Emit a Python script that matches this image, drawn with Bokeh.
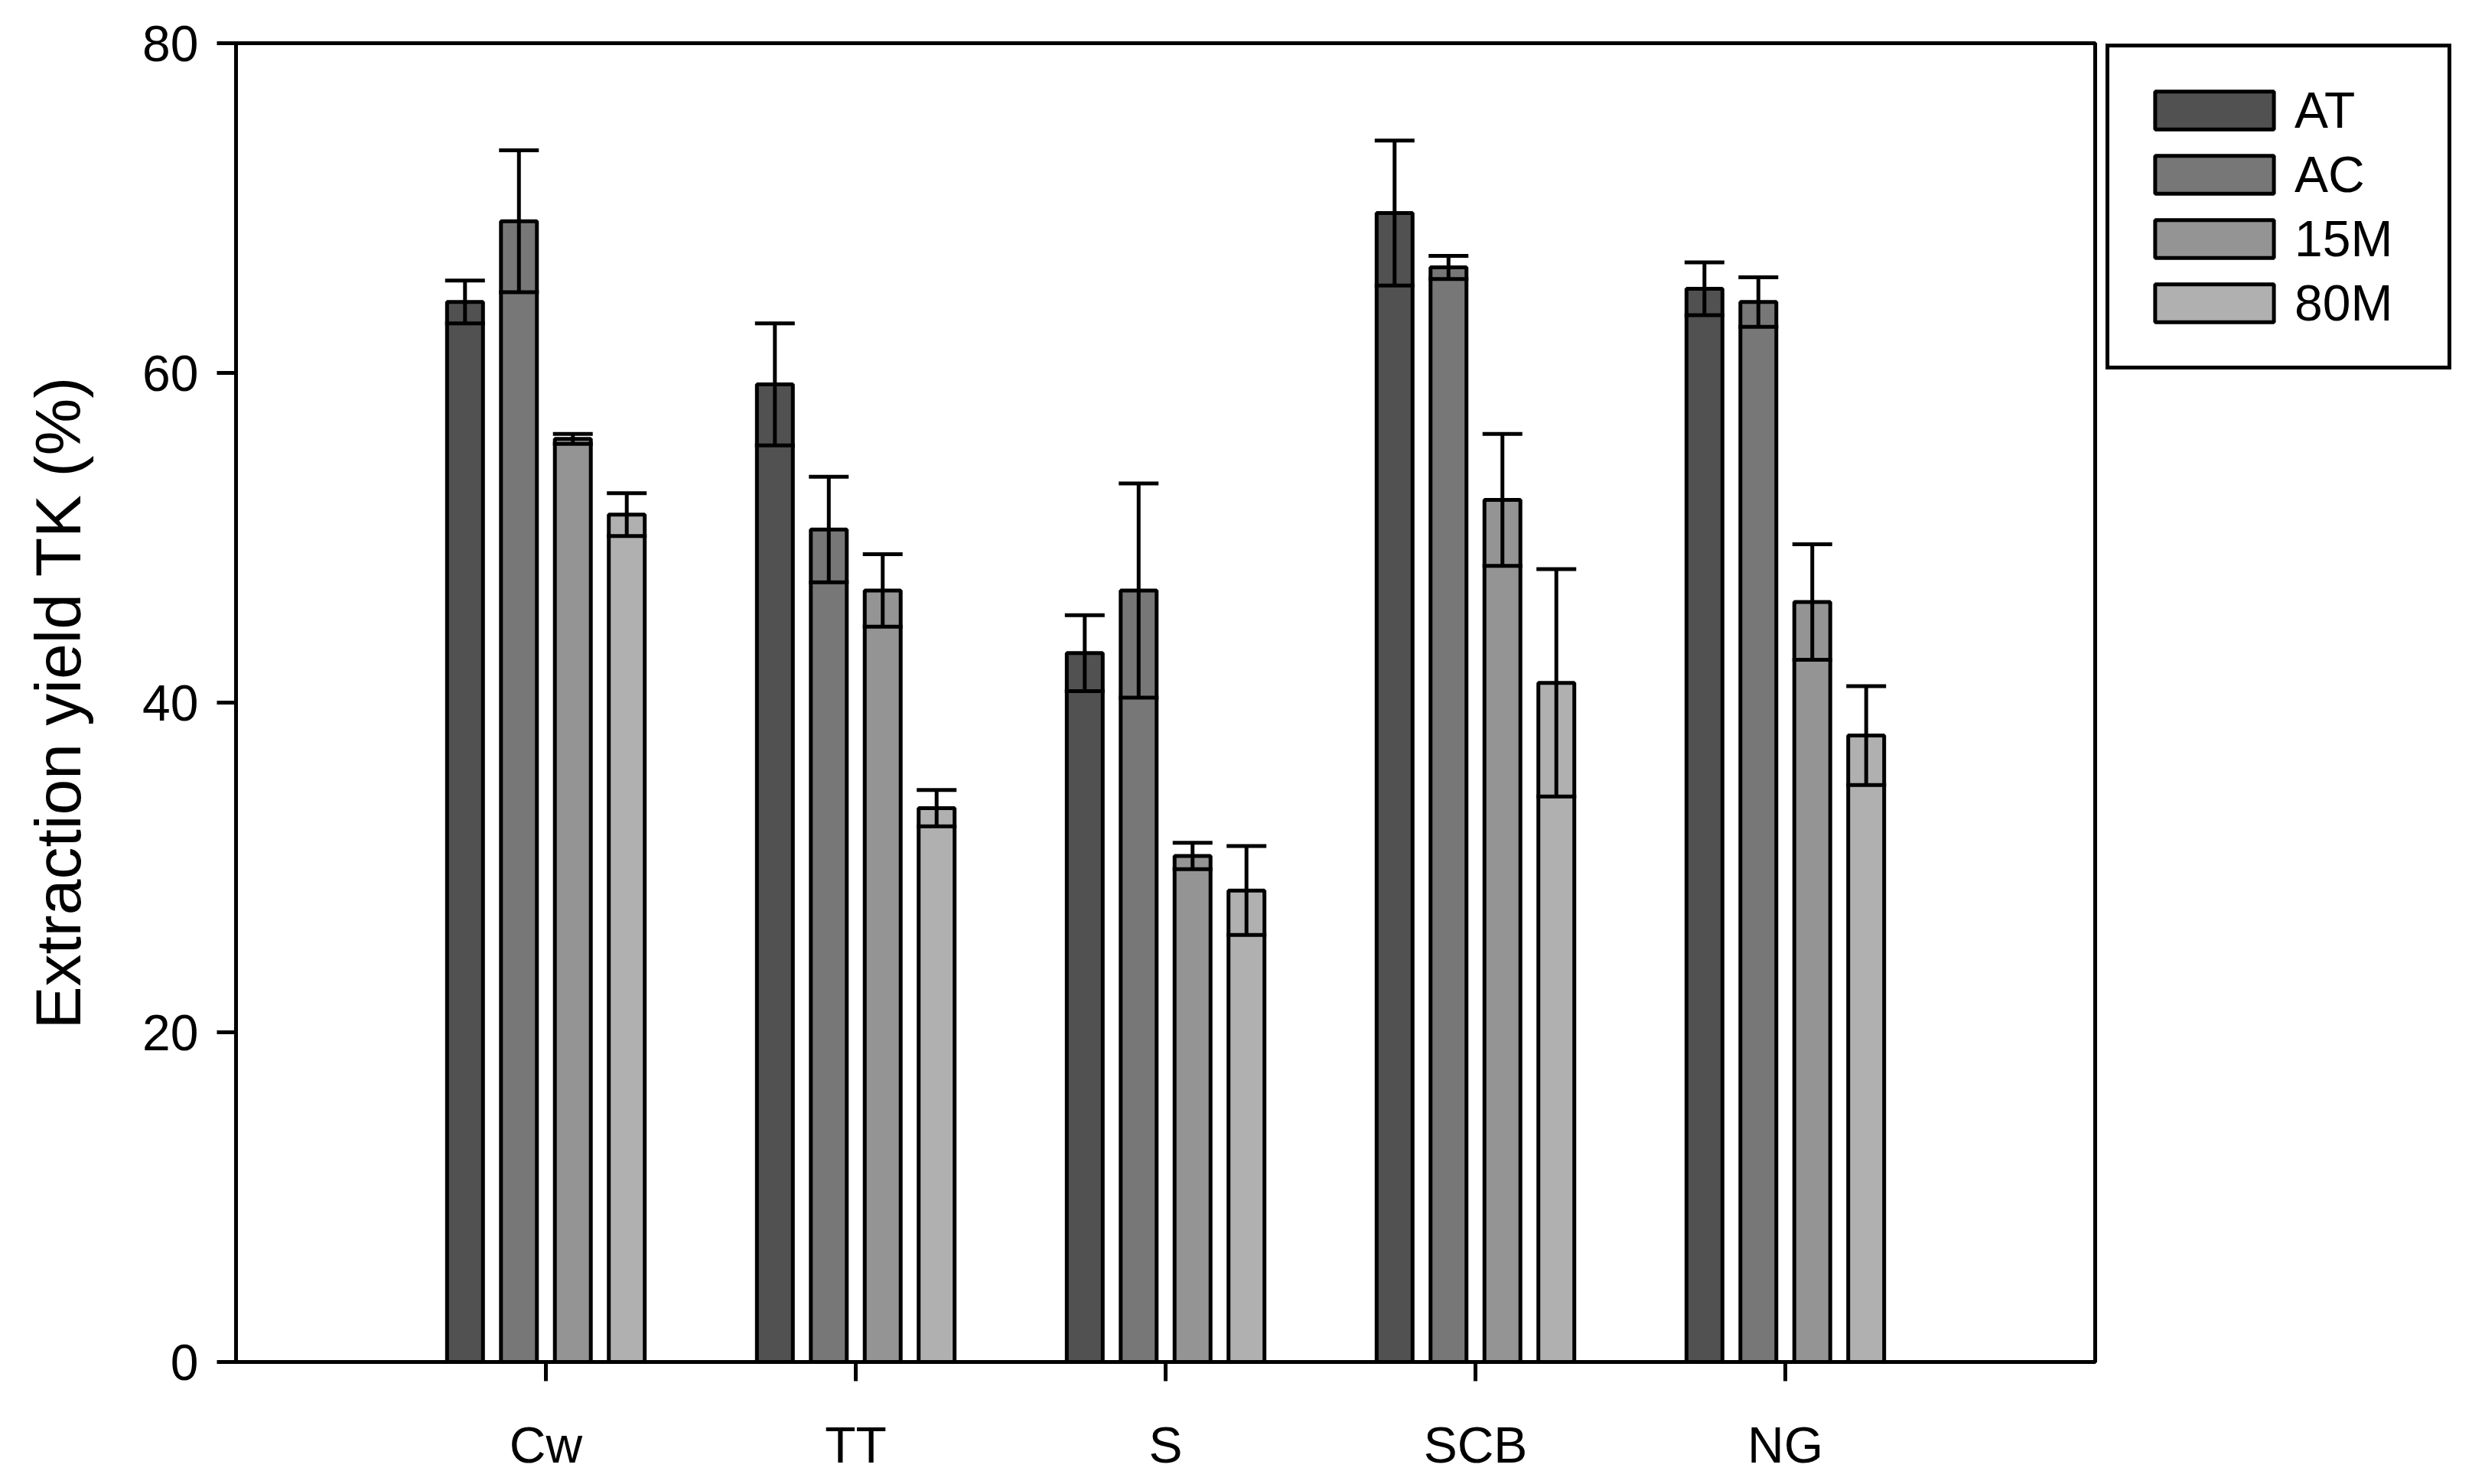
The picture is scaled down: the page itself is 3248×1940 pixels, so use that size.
from bokeh.plotting import figure
from bokeh.models import ColumnDataSource, Range1d, FixedTicker, Whisker, TeeHead, Legend, LegendItem
from bokeh.embed import file_html
from bokeh.resources import INLINE

# extraction yield TK (%), mean and standard deviation per material / treatment
materials = ["Cw", "TT", "S", "SCB", "NG"]
treatments = ["AT", "AC", "15M", "80M"]

at_mean = [64.3, 59.3, 43.0, 69.7, 65.1]
at_sd = [1.3, 3.7, 2.3, 4.4, 1.6]
ac_mean = [69.2, 50.5, 46.8, 66.4, 64.3]
ac_sd = [4.3, 3.2, 6.5, 0.7, 1.5]
m15_mean = [56.0, 46.8, 30.7, 52.3, 46.1]
m15_sd = [0.3, 2.2, 0.8, 4.0, 3.5]
m80_mean = [51.4, 33.6, 28.6, 41.2, 38.0]
m80_sd = [1.3, 1.1, 2.7, 6.9, 3.0]

y_ticks = [0, 20, 40, 60, 80]

means = [at_mean, ac_mean, m15_mean, m80_mean]
sds = [at_sd, ac_sd, m15_sd, m80_sd]
colores = ["#515151", "#777777", "#949494", "#b0b0b0"]

FUENTE = "Liberation Sans"
PASO = 0.174     # distancia entre barras de un grupo
ANCHO = 0.116    # ancho de barra
FRAME_H = 1724
ALTO_LEYENDA = 2 * 40 + 4 * 84

p = figure(frame_width=2430, frame_height=FRAME_H,
           x_range=Range1d(0, len(materials) + 1), y_range=Range1d(0, 80),
           output_backend="svg", toolbar_location=None,
           min_border_left=308, min_border_top=56,
           min_border_bottom=140, min_border_right=0)

items = []
for j, nombre in enumerate(treatments):
    xs = [i + 1 + (j - 1.5) * PASO for i in range(len(materials))]
    src = ColumnDataSource(dict(
        x=xs, top=means[j],
        upper=[m + s for m, s in zip(means[j], sds[j])],
        lower=[m - s for m, s in zip(means[j], sds[j])]))
    r = p.vbar(x="x", top="top", bottom=0, width=ANCHO, source=src,
               fill_color=colores[j], line_color="black", line_width=5)
    w = Whisker(base="x", upper="upper", lower="lower", source=src,
                line_color="black", line_width=5, level="overlay",
                upper_head=TeeHead(size=52, line_width=5, line_color="black"),
                lower_head=TeeHead(size=52, line_width=5, line_color="black"))
    p.add_layout(w)
    items.append(LegendItem(label=nombre, renderers=[r]))

# el rectangulo de la leyenda ocupa el 80% del glifo
leyenda = Legend(items=items, location=(14, FRAME_H - 11 - ALTO_LEYENDA),
                 border_line_color="black", border_line_width=5, border_line_alpha=1.0,
                 label_text_font=FUENTE, label_text_font_size="66px",
                 label_text_color="black",
                 glyph_width=194, glyph_height=62, label_height=84,
                 spacing=0, padding=40, label_standoff=8, label_width=160,
                 margin=14, background_fill_color="white", background_fill_alpha=1.0)
p.add_layout(leyenda, "right")

p.xgrid.visible = False
p.ygrid.visible = False
p.outline_line_color = "black"
p.outline_line_width = 5
p.outline_line_alpha = 1.0
p.background_fill_color = "white"

p.xaxis.ticker = FixedTicker(ticks=list(range(1, len(materials) + 1)))
p.xaxis.major_label_overrides = {i + 1: m for i, m in enumerate(materials)}
p.yaxis.ticker = FixedTicker(ticks=y_ticks)
p.yaxis.axis_label = "Extraction yield TK (%)"

for ax in p.axis:
    ax.axis_line_width = 5
    ax.axis_line_color = "black"
    ax.major_tick_line_width = 5
    ax.major_tick_in = 0
    ax.major_tick_out = 25
    ax.minor_tick_line_color = None
    ax.major_label_text_font = FUENTE
    ax.major_label_text_font_size = "66px"
    ax.major_label_text_color = "black"
    ax.axis_label_text_font = FUENTE
    ax.axis_label_text_font_size = "84px"
    ax.axis_label_text_font_style = "normal"
    ax.axis_label_text_color = "black"

p.yaxis.major_label_standoff = 24
p.xaxis.major_label_standoff = 46
p.yaxis.axis_label_standoff = 60

open("out.html", "w").write(file_html(p, INLINE))
